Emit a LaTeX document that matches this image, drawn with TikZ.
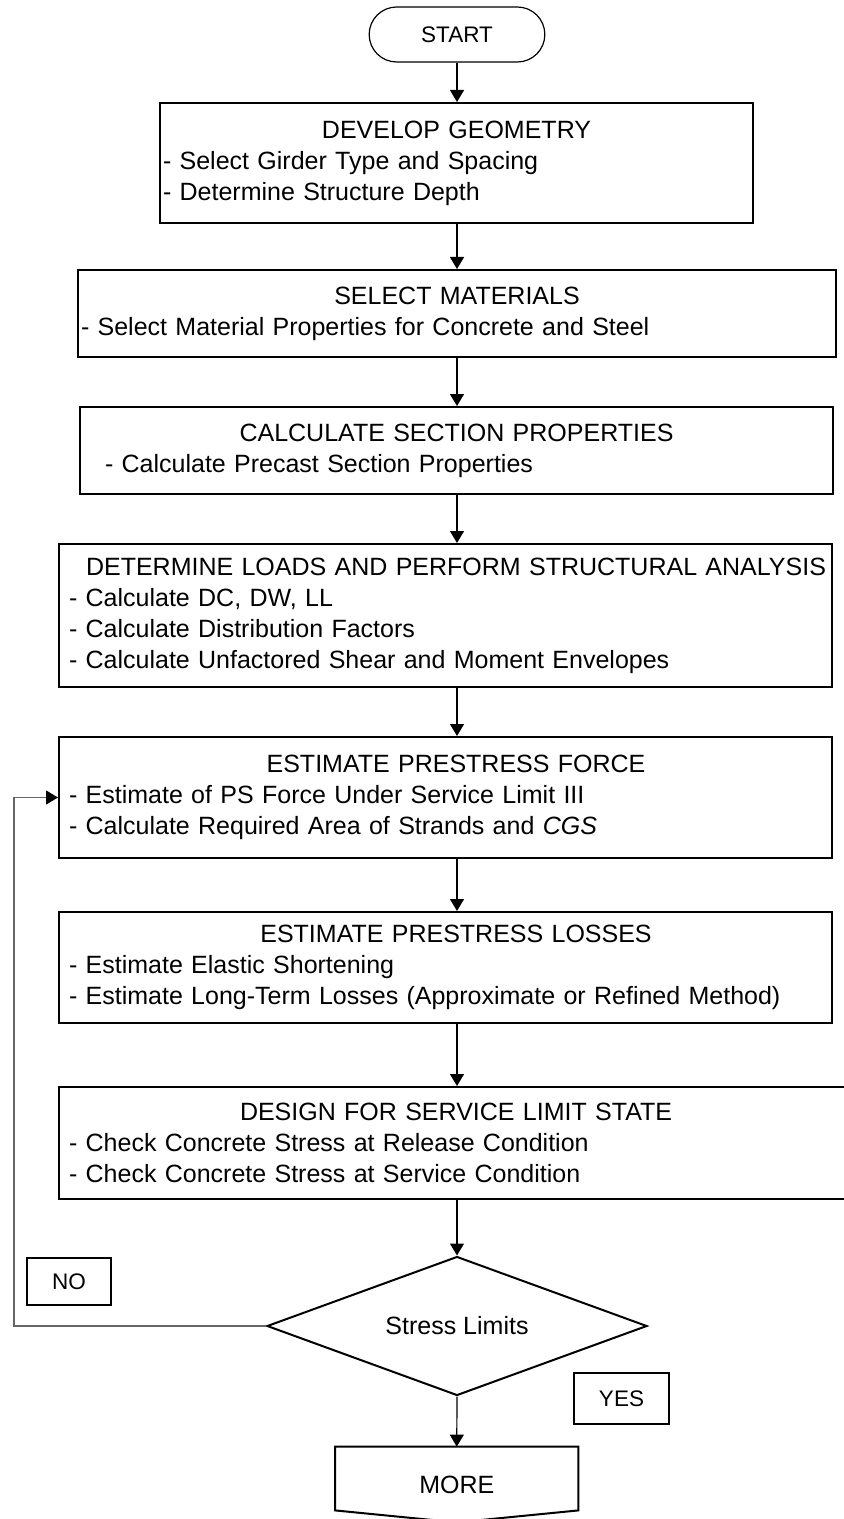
\documentclass[tikz,border=0pt]{standalone}
\usepackage{fontspec}
\setmainfont{Liberation Sans}
\usetikzlibrary{arrows.meta,
                shapes.geometric,
                shapes.misc}

\newcommand{\stagetitle}[2][0pt]{\makebox[\linewidth]{\hspace{#1}#2}}

\begin{document}
\begin{tikzpicture}%
            [x = 0.5pt, y = -0.5pt,
             stage/.style = {draw, line width = 1pt, align = left, inner ysep = 0pt,
                             font = \fontsize{12.5}{15.5}\selectfont},
             tag/.style = {draw, line width = 1pt, font = \fontsize{11.25}{13}\selectfont},
             flow/.style = {-{Triangle[length = 6pt, width = 7pt, color = black]}, line width = 0.6pt}]
            \useasboundingbox (0,0) rectangle (843,1519);
            \fill [white] (0,0) rectangle (843,1519);

            \node [draw, rounded rectangle, line width = 0.6pt, minimum width = 94.5pt, minimum height = 27.5pt,
                   font = \fontsize{11.25}{13}\selectfont] (start) at (457,34.5) {START};

            \node [stage, text width = 293.5pt, inner xsep = 1.5pt, minimum height = 60pt] (geometry) at (456.5,163)
                  {\stagetitle{DEVELOP GEOMETRY}\\- Select Girder Type and Spacing\\- Determine Structure Depth};
            \node [stage, text width = 376pt, inner xsep = 1.5pt, minimum height = 43.5pt] (materials) at (457,313.5)
                  {\stagetitle{SELECT MATERIALS}\\- Select Material Properties for Concrete and Steel};
            \node [stage, text width = 351.5pt, inner xsep = 12.5pt, minimum height = 43.5pt] (section) at (456.5,450.5)
                  {\stagetitle{CALCULATE SECTION PROPERTIES}\\- Calculate Precast Section Properties};
            \node [stage, text width = 376.5pt, inner xsep = 5pt, minimum height = 71.5pt] (loads) at (445.5,615.5)
                  {\stagetitle[10.5pt]{DETERMINE LOADS AND PERFORM STRUCTURAL ANALYSIS}\\- Calculate DC, DW, LL\\- Calculate Distribution Factors\\- Calculate Unfactored Shear and Moment Envelopes};
            \node [stage, text width = 376.5pt, inner xsep = 5pt, minimum height = 60.5pt] (force) at (445.5,797.5)
                  {\stagetitle[10.5pt]{ESTIMATE PRESTRESS FORCE}\\- Estimate of PS Force Under Service Limit III\\- Calculate Required Area of Strands and \textit{CGS}};
            \node [stage, text width = 376.5pt, inner xsep = 5pt, minimum height = 55.5pt] (losses) at (445.5,967.5)
                  {\stagetitle[10.5pt]{ESTIMATE PRESTRESS LOSSES}\\- Estimate Elastic Shortening\\- Estimate Long-Term Losses (Approximate or Refined Method)};
            \node [stage, text width = 387pt, inner xsep = 5pt, minimum height = 56pt] (service) at (456,1143)
                  {\stagetitle{DESIGN FOR SERVICE LIMIT STATE}\\- Check Concrete Stress at Release Condition\\- Check Concrete Stress at Service Condition};

            \node [draw, diamond, aspect = 2.7, line width = 1pt, inner sep = 0pt, minimum width = 190pt, minimum height = 69.5pt,
                   font = \fontsize{12.5}{15.5}\selectfont] (limits) at (457,1326) {Stress Limits};
            \node [tag, minimum width = 42pt, minimum height = 23.5pt] (no) at (69,1281.5) {NO};
            \node [tag, minimum width = 47.5pt, minimum height = 25.5pt] (yes) at (621.5,1398.5) {YES};

            \node [inner sep = 0pt, minimum width = 121.25pt, minimum height = 37.5pt,
                   font = \fontsize{12.5}{15.5}\selectfont] (more) at (456.75,1484.5) {MORE};
            \draw [line width = 1pt] (more.north west) -- (more.north east) -- ([yshift = 6pt]more.south east)
                  -- (more.south) -- ([yshift = 6pt]more.south west) -- cycle;

            \draw [flow] (start.south) -- (start.south |- geometry.north);
            \draw [flow] (geometry.south -| start.south) -- (materials.north -| start.south);
            \draw [flow] (materials.south -| start.south) -- (section.north -| start.south);
            \draw [flow] (section.south -| start.south) -- (loads.north -| start.south);
            \draw [flow] (loads.south -| start.south) -- (force.north -| start.south);
            \draw [flow] (force.south -| start.south) -- (losses.north -| start.south);
            \draw [flow] (losses.south -| start.south) -- (service.north -| start.south);
            \draw [flow] (service.south -| start.south) -- (limits.north);
            \draw [flow] (limits.south) -- (more.north);

            \coordinate (back) at (14,1326);
            \draw [flow, draw = black!60] (limits.west) -- (back) |- (force.west);
        \end{tikzpicture}
\end{document}
